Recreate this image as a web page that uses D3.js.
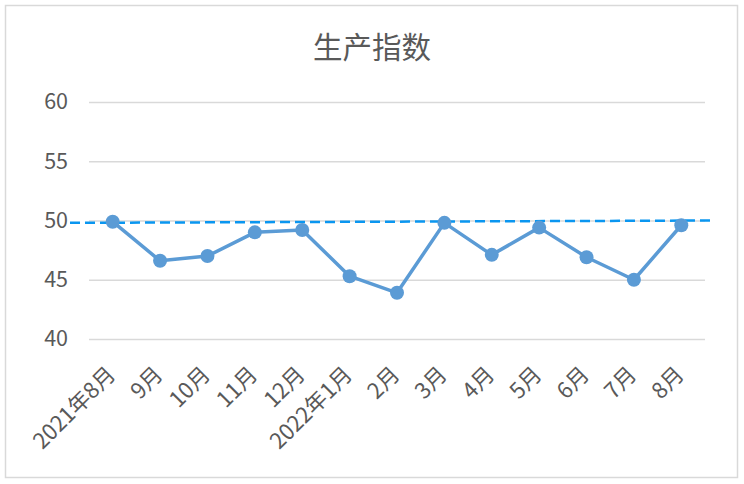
<!DOCTYPE html>
<html><head><meta charset="utf-8">
<script src="https://cdn.jsdelivr.net/npm/d3@7"></script>
<style>body{margin:0;background:#fff;}svg{display:block;}</style>
</head><body>
<script>
const categories = ["2021年8月","9月","10月","11月","12月","2022年1月","2月","3月","4月","5月","6月","7月","8月"];
const values = [49.9,46.6,47.0,49.0,49.2,45.3,43.9,49.8,47.1,49.4,46.9,45.0,49.6];
const yTicks = [40,45,50,55,60];
const refLine = [49.8,50.0];
const title = "生产指数";

const W=744,H=484;
const svg=d3.select("body").append("svg").attr("width",W).attr("height",H);
const font="'Microsoft YaHei','Noto Sans CJK SC',sans-serif";
svg.append("rect").attr("x",5.5).attr("y",5.5).attr("width",732).attr("height",472)
  .attr("fill","#fff").attr("stroke","#d9d9d9").attr("stroke-width",1.5);

const x=d3.scaleBand().domain(categories).range([89,705]);
const y=d3.scaleLinear().domain([40,60]).range([339,102]);

svg.append("text").attr("x",372).attr("y",58).attr("text-anchor","middle")
  .attr("font-family",font).attr("font-size",29.5).attr("fill","#595959").text(title);

const ya=svg.append("g").attr("transform","translate(89,0)")
  .call(d3.axisLeft(y).tickValues(yTicks).tickSize(-616).tickPadding(21));
ya.select(".domain").remove();
ya.selectAll("line").attr("stroke","#d9d9d9").attr("stroke-width",1.5);
ya.selectAll("text").attr("font-family",font).attr("font-size",21.5).attr("fill","#595959");

const xa=svg.append("g").attr("transform","translate(0,339)")
  .call(d3.axisBottom(x).tickSize(0).tickPadding(0));
xa.select(".domain").remove();
xa.selectAll("text").attr("font-family",font).attr("font-size",22).attr("fill","#595959")
  .attr("text-anchor","end").attr("dy",0)
  .attr("transform","translate(4,37) rotate(-45)");

svg.append("line").attr("x1",70).attr("x2",712)
  .attr("y1",y(refLine[0])).attr("y2",y(refLine[1]))
  .attr("stroke","#0a96f0").attr("stroke-width",2.5).attr("stroke-dasharray","10,5");

const line=d3.line().x((d,i)=>x(categories[i])+x.bandwidth()/2).y(d=>y(d));
svg.append("path").datum(values).attr("d",line).attr("fill","none")
  .attr("stroke","#5b9bd5").attr("stroke-width",3.5).attr("stroke-linejoin","round");
svg.selectAll("circle.pt").data(values).enter().append("circle").attr("class","pt")
  .attr("cx",(d,i)=>x(categories[i])+x.bandwidth()/2).attr("cy",d=>y(d)).attr("r",7)
  .attr("fill","#5b9bd5");
</script>
</body></html>
